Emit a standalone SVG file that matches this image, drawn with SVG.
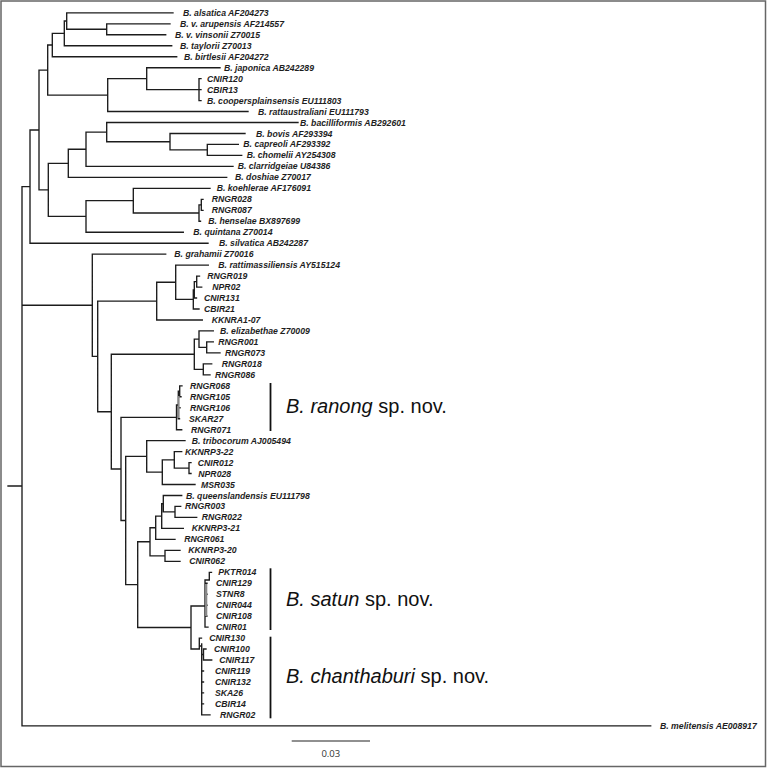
<svg xmlns="http://www.w3.org/2000/svg" width="767" height="768" viewBox="0 0 767 768">
<style>
.br{fill:none;stroke:#1c1c1c;stroke-width:1.35;stroke-linecap:square}
.bar{fill:none;stroke:#111;stroke-width:1.8}
.lf{font-family:"Liberation Sans",Arial,sans-serif;font-size:8.7px;font-weight:bold;font-style:italic;fill:#1e1e1e}
.sp{font-family:"Liberation Sans",Arial,sans-serif;font-size:20px;fill:#111}
.sc{font-family:"Open Sans","DejaVu Sans",sans-serif;font-size:9.5px;fill:#333}
</style>
<rect x="1" y="1" width="764.5" height="765.5" fill="#fff" stroke="#666" stroke-width="1.5"/>
<g id="connectors">
<path class="br" d="
M66.7,12.8V29.25 M66.7,12.8H173 M66.7,29.25H106.7 M106.7,23.8V34.7 M106.7,23.8H170 M106.7,34.7H165.7
M64.3,21V45.7 M64.3,21H66.7 M64.3,45.7H171.7
M52.3,33.35V56.7 M52.3,33.35H64.3 M52.3,56.7H176.7
M47.7,45V95.1 M47.7,45H52.3 M47.7,95.1H107.7
M107.7,78.65V111.5 M107.7,78.65H146.7 M107.7,111.5H248
M146.7,67.7V89.6 M146.7,67.7H220 M146.7,89.6H199
M199,78.6V100.6 M199,78.6H201 M199,89.6H201 M199,100.6H201
M39,70.05V189.85 M39,70.05H47.7 M39,189.85H48.3
M48.3,163.3V216.4 M48.3,163.3H68.3 M48.3,216.4H86
M68.3,149.25V177.4 M68.3,149.25H86 M68.3,177.4H226.7
M86,132.1V166.4 M86,132.1H106.7 M86,166.4H233
M106.7,122.5V141.7 M106.7,122.5H298 M106.7,141.7H170
M170,133.5V149.9 M170,133.5H245 M170,149.9H207.3
M207.3,144.4V155.4 M207.3,144.4H238.3 M207.3,155.4H241.7
M86,200.65V232.2 M86,200.65H133.3 M86,232.2H183.3
M133.3,188.3V213 M133.3,188.3H210 M133.3,213H199
M199,204.8V221.2 M199,204.8H201.3 M199,221.2H200.5
M201.3,199.3V210.3 M201.3,199.3H203 M201.3,210.3H203
M30,129.95V243.2 M30,129.95H39 M30,243.2H208
M22,186.6V725.9 M22,186.6H30 M8,486H22 M22,305.25H92.3 M22,725.9H650.7
"/>
<path class="br" d="
M92.3,254.1V356.4 M92.3,254.1H165.7 M92.3,356.4H97.7
M97.7,301.1V411.7 M97.7,301.1H156.7 M97.7,411.7H111.3
M156.7,282.25V320 M156.7,282.25H175.7 M156.7,320H202.3
M175.7,265.1V299.4 M175.7,265.1H208.3 M175.7,299.4H193.3
M193.3,289.8V309 M193.3,289.8H194.3 M193.3,309H199
M194.3,281.6V298 M194.3,281.6H196.7 M194.3,298H196.5
M196.7,276.1V287.1 M196.7,276.1H199.5 M196.7,287.1H201.7
M111.3,354.2V469 M111.3,354.2H194.3 M111.3,469H121
M194.3,339.15V369.3 M194.3,339.15H199 M194.3,369.3H203.3
M199,330.9V347.4 M199,330.9H213.3 M199,347.4H206.7
M206.7,341.9V352.9 M206.7,341.9H213.3 M206.7,352.9H220
M203.3,363.8V374.8 M203.3,363.8H211.7 M203.3,374.8H210
M121,417.4V520.5 M121,417.4H176.5 M121,520.5H125.7
M176.5,405V429.7 M176.5,405H178.3 M176.5,429.7H181.7
M178.3,391.25V418.7 M178.3,391.25H179.7 M178.3,407.7H180 M178.3,418.7H179.5
M179.7,385.8V396.7 M179.7,385.8H182 M179.7,396.7H181
M125.7,456.4V584.6 M125.7,456.4H146.7 M125.7,584.6H137.7
M146.7,440.6V472.15 M146.7,440.6H185 M146.7,472.15H162.3
M162.3,459.8V484.5 M162.3,459.8H174.3 M162.3,484.5H195
M174.3,451.6V468.05 M174.3,451.6H181.7 M174.3,468.05H189
M189,462.6V473.5 M189,462.6H191 M189,473.5H191
M137.7,541.75V627.5 M137.7,541.75H150 M137.7,627.5H191
M150,527.7V555.8 M150,527.7H155.7 M150,555.8H165
M155.7,516.05V539.3 M155.7,516.05H161.7 M155.7,539.3H175
M161.7,503.7V528.4 M161.7,503.7H163.3 M161.7,528.4H183.3
M163.3,495.5V511.9 M163.3,495.5H181.7 M163.3,511.9H175
M175,506.4V517.4 M175,506.4H180.7 M175,517.4H196.7
M165,550.3V561.3 M165,550.3H180 M165,561.3H180
M191,606V649 M191,606H205 M191,649H199.3
M205,580V627.1 M205,580H209.3 M209.3,572.3V580 M209.3,572.3H211.5
M205,583.2H207 M205,594.2H207 M205,605.2H207 M205,616.1H207 M205,627.1H208
M199.3,638.1V649 M199.3,638.1H201.5 M199.3,646H201.7
M201.7,644V714.9 M201.7,654.5H203.5 M203.5,649V660 M203.5,649H206 M203.5,660H211.7
M201.7,671H203.5 M201.7,682H203.5 M201.7,692.9H203.5 M201.7,703.9H203.5 M201.7,714.9H210
"/>
<rect x="177.8" y="396" width="1.8" height="22" fill="#888"/>
<rect x="205" y="584" width="2.3" height="32" fill="#888"/>
</g>
<g id="leaves">
<g id="n1"><text class="lf" x="183" y="15.8">B. alsatica AF204273</text></g>
<g id="n2"><text class="lf" x="180" y="26.8">B. v. arupensis AF214557</text></g>
<g id="n3"><text class="lf" x="175" y="37.7">B. v. vinsonii Z70015</text></g>
<g id="n4"><text class="lf" x="180" y="48.7">B. taylorii Z70013</text></g>
<g id="n5"><text class="lf" x="184" y="59.7">B. birtlesii AF204272</text></g>
<g id="n6"><text class="lf" x="224" y="70.7">B. japonica AB242289</text></g>
<g id="n7"><text class="lf" x="207" y="81.6">CNIR120</text></g>
<g id="n8"><text class="lf" x="207" y="92.6">CBIR13</text></g>
<g id="n9"><text class="lf" x="207" y="103.6">B. coopersplainsensis EU111803</text></g>
<g id="n10"><text class="lf" x="258" y="114.5">B. rattaustraliani EU111793</text></g>
<g id="n11"><text class="lf" x="300" y="125.5">B. bacilliformis AB292601</text></g>
<g id="n12"><text class="lf" x="256" y="136.5">B. bovis AF293394</text></g>
<g id="n13"><text class="lf" x="243.3" y="147.4">B. capreoli AF293392</text></g>
<g id="n14"><text class="lf" x="246.7" y="158.4">B. chomelii AY254308</text></g>
<g id="n15"><text class="lf" x="237.7" y="169.4">B. clarridgeiae U84386</text></g>
<g id="n16"><text class="lf" x="235" y="180.4">B. doshiae Z70017</text></g>
<g id="n17"><text class="lf" x="216.7" y="191.3">B. koehlerae AF176091</text></g>
<g id="n18"><text class="lf" x="211.7" y="202.3">RNGR028</text></g>
<g id="n19"><text class="lf" x="211.7" y="213.3">RNGR087</text></g>
<g id="n20"><text class="lf" x="208.3" y="224.2">B. henselae BX897699</text></g>
<g id="n21"><text class="lf" x="193.3" y="235.2">B. quintana Z70014</text></g>
<g id="n22"><text class="lf" x="219" y="246.2">B. silvatica AB242287</text></g>
<g id="n23"><text class="lf" x="174.3" y="257.1">B. grahamii Z70016</text></g>
<g id="n24"><text class="lf" x="218.3" y="268.1">B. rattimassiliensis AY515124</text></g>
<g id="n25"><text class="lf" x="207.3" y="279.1">RNGR019</text></g>
<g id="n26"><text class="lf" x="212.3" y="290.1">NPR02</text></g>
<g id="n27"><text class="lf" x="204" y="301">CNIR131</text></g>
<g id="n28"><text class="lf" x="204" y="312">CBIR21</text></g>
<g id="n29"><text class="lf" x="211.7" y="323">KKNRA1-07</text></g>
<g id="n30"><text class="lf" x="220" y="333.9">B. elizabethae Z70009</text></g>
<g id="n31"><text class="lf" x="218.3" y="344.9">RNGR001</text></g>
<g id="n32"><text class="lf" x="225" y="355.9">RNGR073</text></g>
<g id="n33"><text class="lf" x="221.7" y="366.8">RNGR018</text></g>
<g id="n34"><text class="lf" x="215" y="377.8">RNGR086</text></g>
<g id="n35"><text class="lf" x="190" y="388.8">RNGR068</text></g>
<g id="n36"><text class="lf" x="190" y="399.7">RNGR105</text></g>
<g id="n37"><text class="lf" x="190" y="410.7">RNGR106</text></g>
<g id="n38"><text class="lf" x="189" y="421.7">SKAR27</text></g>
<g id="n39"><text class="lf" x="191" y="432.7">RNGR071</text></g>
<g id="n40"><text class="lf" x="191.7" y="443.6">B. tribocorum AJ005494</text></g>
<g id="n41"><text class="lf" x="185" y="454.6">KKNRP3-22</text></g>
<g id="n42"><text class="lf" x="197.7" y="465.6">CNIR012</text></g>
<g id="n43"><text class="lf" x="198.3" y="476.5">NPR028</text></g>
<g id="n44"><text class="lf" x="201" y="487.5">MSR035</text></g>
<g id="n45"><text class="lf" x="186" y="498.5">B. queenslandensis EU111798</text></g>
<g id="n46"><text class="lf" x="185" y="509.4">RNGR003</text></g>
<g id="n47"><text class="lf" x="201.7" y="520.4">RNGR022</text></g>
<g id="n48"><text class="lf" x="191.7" y="531.4">KKNRP3-21</text></g>
<g id="n49"><text class="lf" x="184.3" y="542.3">RNGR061</text></g>
<g id="n50"><text class="lf" x="188.3" y="553.3">KKNRP3-20</text></g>
<g id="n51"><text class="lf" x="189.3" y="564.3">CNIR062</text></g>
<g id="n52"><text class="lf" x="218.3" y="575.3">PKTR014</text></g>
<g id="n53"><text class="lf" x="216" y="586.2">CNIR129</text></g>
<g id="n54"><text class="lf" x="216" y="597.2">STNR8</text></g>
<g id="n55"><text class="lf" x="216" y="608.2">CNIR044</text></g>
<g id="n56"><text class="lf" x="216" y="619.1">CNIR108</text></g>
<g id="n57"><text class="lf" x="216" y="630.1">CNIR01</text></g>
<g id="n58"><text class="lf" x="209.3" y="641.1">CNIR130</text></g>
<g id="n59"><text class="lf" x="214" y="652">CNIR100</text></g>
<g id="n60"><text class="lf" x="219.3" y="663">CNIR117</text></g>
<g id="n61"><text class="lf" x="215" y="674">CNIR119</text></g>
<g id="n62"><text class="lf" x="215" y="685">CNIR132</text></g>
<g id="n63"><text class="lf" x="215" y="695.9">SKA26</text></g>
<g id="n64"><text class="lf" x="215" y="706.9">CBIR14</text></g>
<g id="n65"><text class="lf" x="220" y="717.9">RNGR02</text></g>
<g id="n66"><text class="lf" x="660" y="728.9">B. melitensis AE008917</text></g>
</g>
<g id="clade-ranong">
<line class="bar" x1="270.5" y1="383" x2="270.5" y2="431"/>
<text class="sp" x="286" y="412.7"><tspan font-style="italic">B. ranong</tspan> sp. nov.</text>
</g>
<g id="clade-satun">
<line class="bar" x1="270.5" y1="568.3" x2="270.5" y2="630"/>
<text class="sp" x="286" y="605.7"><tspan font-style="italic">B. satun</tspan> sp. nov.</text>
</g>
<g id="clade-chanthaburi">
<line class="bar" x1="270.5" y1="636.7" x2="270.5" y2="718.3"/>
<text class="sp" x="286" y="682.7"><tspan font-style="italic">B. chanthaburi</tspan> sp. nov.</text>
</g>
<g id="scale-bar">
<line x1="291.7" y1="741" x2="370" y2="741" stroke="#222" stroke-width="1.2"/>
<text class="sc" x="330.8" y="756.7" text-anchor="middle">0.03</text>
</g>
</svg>
